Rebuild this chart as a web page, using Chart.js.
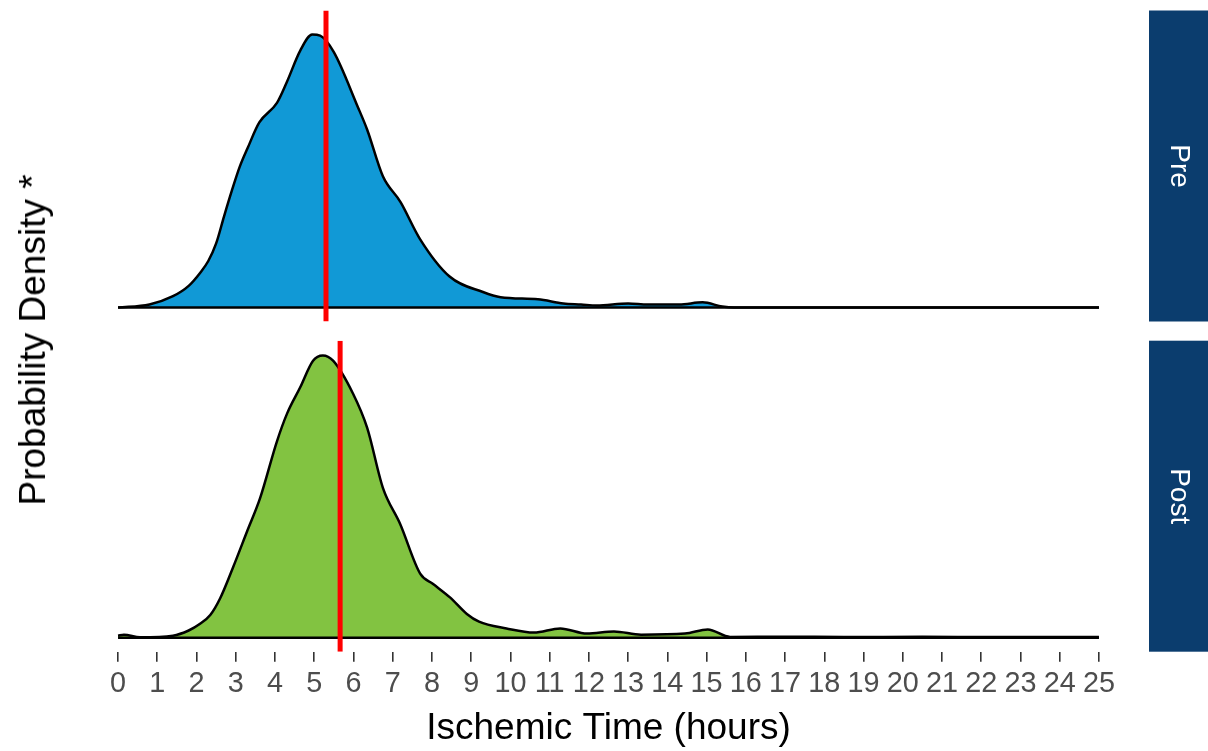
<!DOCTYPE html>
<html>
<head>
<meta charset="utf-8">
<script src="https://cdn.jsdelivr.net/npm/chart.js@4.4.0/dist/chart.umd.min.js"></script>
<style>
  body { margin: 0; background: #fff; width: 1208px; height: 751px; position: relative; overflow: hidden;
         font-family: "Liberation Sans", Arial, sans-serif; }
  canvas { position: absolute; left: 0; }
  #pre { top: 0; }
  #post { top: 330px; }
  #ylab { position: absolute; left: 33px; top: 340px; transform: translate(-50%, -50%) rotate(-90deg);
          font-size: 37px; white-space: nowrap; color: #000; }
</style>
</head>
<body>
<canvas id="pre" width="1208" height="330"></canvas>
<canvas id="post" width="1208" height="421"></canvas>
<div id="ylab">Probability Density *</div>
<script>
// x tick labels (hours)
const xTicks = [0,1,2,3,4,5,6,7,8,9,10,11,12,13,14,15,16,17,18,19,20,21,22,23,24,25];

// Pre period density
const hoursPre   = [0, 0.8, 1.4, 1.8, 2.1, 2.3, 2.5, 2.7, 2.9, 3.1, 3.3, 3.6, 4.05, 4.3, 4.65, 4.95, 5.15, 5.5, 6.1,
                    6.35, 6.75, 7.2, 7.7, 8.45, 9.3, 9.75, 10.7, 11.35, 11.8, 12.2, 13.0, 13.5, 14.3, 14.9, 15.4,
                    15.7, 25];
const densityPre = [0, 0.003, 0.011, 0.021, 0.034, 0.045, 0.062, 0.088, 0.113, 0.136, 0.154, 0.179, 0.198, 0.218,
                    0.249, 0.264, 0.263, 0.247, 0.195, 0.172, 0.127, 0.102, 0.066, 0.030, 0.015, 0.010, 0.008,
                    0.004, 0.003, 0.002, 0.004, 0.003, 0.003, 0.005, 0.001, 0, 0];

// Post period density
const hoursPost   = [0, 0.15, 0.56, 1.4, 1.8, 2.09, 2.35, 2.6, 2.93, 3.29, 3.62, 4.05, 4.31, 4.64, 4.97, 5.22,
                     5.48, 5.99, 6.35, 6.75, 7.19, 7.7, 8.03, 8.46, 8.89, 9.2, 9.9, 10.6, 11.27, 11.95, 12.64,
                     13.33, 14.45, 15.03, 15.6, 17, 18.5, 20.5, 22, 25];
const densityPost = [0.002, 0.003, 0.0005, 0.002, 0.007, 0.0135, 0.022, 0.038, 0.068, 0.103, 0.135, 0.19, 0.217,
                     0.242, 0.268, 0.273, 0.268, 0.236, 0.203, 0.145, 0.110, 0.062, 0.052, 0.039, 0.023, 0.0155,
                     0.009, 0.005, 0.009, 0.004, 0.006, 0.003, 0.004, 0.008, 0.0008, 0.001, 0.0007, 0.0009,
                     0.0007, 0.0006];

// medians (red lines)
const medianPre = 5.3;
const medianPost = 5.66;

const yMin = -0.0135, yMax = 0.2873;

// facet strip on the right
const stripPlugin = {
  id: 'strip',
  afterDraw(chart, args, opts) {
    const ctx = chart.ctx, a = chart.chartArea;
    ctx.save();
    ctx.fillStyle = '#0B3D6E';
    ctx.fillRect(1149, a.top, 59, a.bottom - a.top);
    ctx.translate(1178.5, (a.top + a.bottom) / 2);
    ctx.rotate(Math.PI / 2);
    ctx.fillStyle = '#fff';
    ctx.font = '28px "Liberation Sans", Arial, sans-serif';
    ctx.textAlign = 'center';
    ctx.textBaseline = 'middle';
    ctx.fillText(opts.label, 0, 0);
    ctx.restore();
  }
};

function makeChart(id, label, hours, dens, median, fillColor, showX) {
  const xAxis = {
    type: 'linear', min: -1.25, max: 26.25, display: showX,
    afterBuildTicks: axis => { axis.ticks = xTicks.map(v => ({ value: v })); },
    grid: { drawOnChartArea: false, drawTicks: true, tickLength: 10, color: '#333333', lineWidth: 1.6 },
    border: { display: false },
    ticks: { autoSkip: false, maxRotation: 0, padding: 5, color: '#4D4D4D',
             font: { family: '"Liberation Sans", Arial, sans-serif', size: 28.8 } },
    title: { display: true, text: 'Ischemic Time (hours)', color: '#000', padding: { top: 0, bottom: 0 },
             font: { family: '"Liberation Sans", Arial, sans-serif', size: 37 } }
  };
  if (showX) xAxis.afterFit = axis => { axis.height = 99.3; };

  return new Chart(document.getElementById(id), {
    type: 'line',
    data: {
      datasets: [
        { data: [{ x: median, y: yMin }, { x: median, y: yMax }], borderColor: '#FF0000', borderWidth: 5,
          borderCapStyle: 'butt', pointRadius: 0, fill: false },
        { data: [{ x: xTicks[0], y: 0 }, { x: xTicks[xTicks.length - 1], y: 0 }], borderColor: '#000',
          borderWidth: 2.5, pointRadius: 0, fill: false },
        { data: hours.map((h, i) => ({ x: h, y: dens[i] })), borderColor: '#000', borderWidth: 2.5,
          backgroundColor: fillColor, fill: 'origin', pointRadius: 0, cubicInterpolationMode: 'monotone',
          borderJoinStyle: 'round' }
      ]
    },
    options: {
      responsive: false, animation: false, devicePixelRatio: 1,
      layout: { padding: showX ? { left: 69, right: 60, top: 10.7, bottom: 0 }
                               : { left: 69, right: 60, top: 10.5, bottom: 8.5 } },
      scales: {
        x: xAxis,
        y: { display: false, min: yMin, max: yMax }
      },
      plugins: { legend: { display: false }, tooltip: { enabled: false }, strip: { label: label } }
    },
    plugins: [stripPlugin]
  });
}

makeChart('pre', 'Pre', hoursPre, densityPre, medianPre, '#1199D6', false);
makeChart('post', 'Post', hoursPost, densityPost, medianPost, '#82C341', true);
</script>
</body>
</html>
